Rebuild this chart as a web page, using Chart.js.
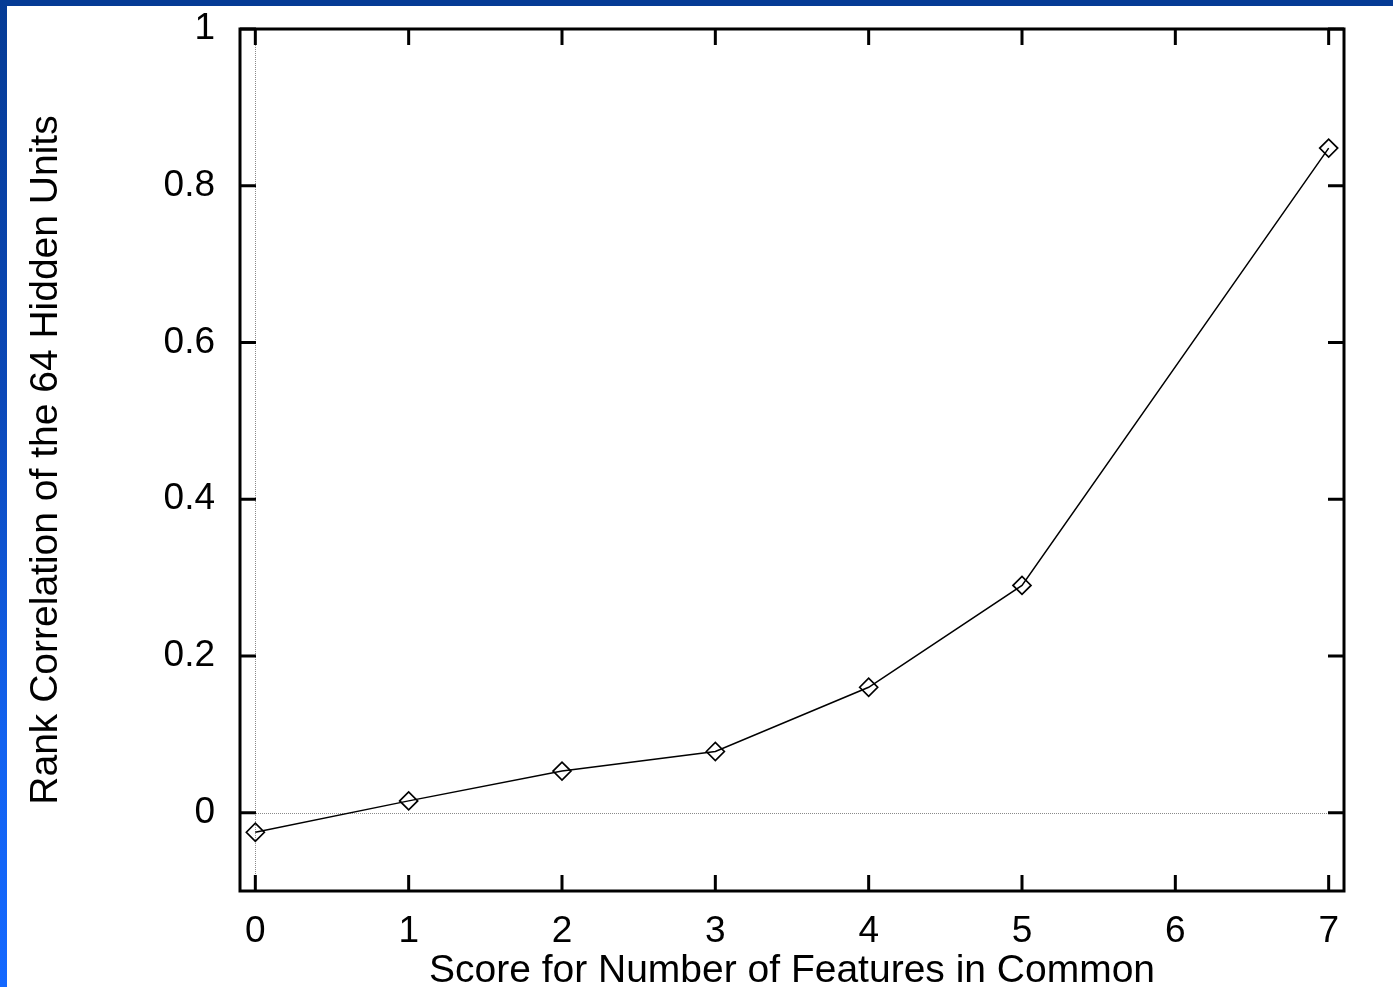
<!DOCTYPE html>
<html>
<head>
<meta charset="utf-8">
<script src="https://cdn.jsdelivr.net/npm/chart.js@4.4.1/dist/chart.umd.min.js"></script>
<style>
  html, body { margin: 0; padding: 0; background: #ffffff; overflow: hidden; }
  #wrap { position: relative; width: 1393px; height: 987px; }
  #topband { position: absolute; left: 0; top: 0; width: 1393px; height: 6px; background: #053b95; }
  #leftband { position: absolute; left: 0; top: 0; width: 7px; height: 987px;
              background: linear-gradient(to bottom, #053b95 0%, #0b48b8 40%, #1262f0 75%, #1468ff 100%); }
  canvas { position: absolute; left: 0; top: 0; }
</style>
</head>
<body>
<div id="wrap">
  <canvas id="c" width="1393" height="987"></canvas>
  <div id="topband"></div>
  <div id="leftband"></div>
</div>
<script>
// Score for number of shared features vs. rank correlation of the hidden units
const scores = [0, 1, 2, 3, 4, 5, 7];
const correlations = [-0.025, 0.015, 0.053, 0.078, 0.16, 0.29, 0.848];
const xTickValues = [0, 1, 2, 3, 4, 5, 6, 7];
const yTickValues = [0, 0.2, 0.4, 0.6, 0.8, 1];
const xTitle = 'Score for Number of Features in Common';
const yTitle = 'Rank Correlation of the 64 Hidden Units';

const FONT = 'Liberation Sans, Arial, Helvetica, sans-serif';
const TICK_LEN = 16;

// Frame, inward ticks on all four sides and dotted zero lines
const framePlugin = {
  id: 'frame',
  beforeDatasetsDraw(chart) {
    const { ctx, chartArea: a, scales } = chart;
    const xs = scales.x, ys = scales.y;
    ctx.save();
    ctx.strokeStyle = '#8a8a8a';
    ctx.lineWidth = 1;
    ctx.setLineDash([1, 1]);
    const x0 = Math.round(xs.getPixelForValue(0)) + 0.5;
    const y0 = Math.round(ys.getPixelForValue(0)) + 0.5;
    ctx.beginPath();
    ctx.moveTo(x0, a.top); ctx.lineTo(x0, a.bottom);
    ctx.moveTo(a.left, y0); ctx.lineTo(a.right, y0);
    ctx.stroke();
    ctx.setLineDash([]);

    ctx.strokeStyle = '#000';
    ctx.lineWidth = 3;
    ctx.beginPath();
    xTickValues.forEach(v => {
      const px = xs.getPixelForValue(v);
      ctx.moveTo(px, a.bottom); ctx.lineTo(px, a.bottom - TICK_LEN);
      ctx.moveTo(px, a.top); ctx.lineTo(px, a.top + TICK_LEN);
    });
    yTickValues.forEach(v => {
      const py = ys.getPixelForValue(v);
      ctx.moveTo(a.left, py); ctx.lineTo(a.left + TICK_LEN, py);
      ctx.moveTo(a.right, py); ctx.lineTo(a.right - TICK_LEN, py);
    });
    ctx.stroke();
    ctx.strokeRect(a.left, a.top, a.right - a.left, a.bottom - a.top);
    ctx.restore();
  }
};

new Chart(document.getElementById('c'), {
  type: 'line',
  data: {
    datasets: [{
      data: scores.map((s, i) => ({ x: s, y: correlations[i] })),
      borderColor: '#000',
      borderWidth: 1.5,
      pointStyle: 'rectRot',
      pointRadius: 9,
      pointBorderWidth: 1.7,
      pointBorderColor: '#000',
      pointBackgroundColor: 'rgba(0,0,0,0)',
      tension: 0,
      fill: false
    }]
  },
  options: {
    responsive: false,
    animation: false,
    events: [],
    layout: { padding: { top: 29, right: 49, left: 0, bottom: 0 } },
    plugins: { legend: { display: false }, tooltip: { enabled: false } },
    scales: {
      x: {
        type: 'linear',
        min: -0.1,
        max: 7.1,
        afterBuildTicks: s => { s.ticks = xTickValues.map(v => ({ value: v })); },
        afterFit: s => { s.height = 96; s.paddingLeft = 0; s.paddingRight = 0; },
        grid: { display: false, drawTicks: false },
        border: { display: false },
        ticks: {
          color: '#000',
          padding: 19,
          maxRotation: 0,
          font: { family: FONT, size: 37 },
          callback: v => String(v)
        },
        title: {
          display: true,
          text: xTitle,
          color: '#000',
          font: { family: FONT, size: 39, lineHeight: 0.8 },
          padding: { top: 0, bottom: 0 }
        }
      },
      y: {
        type: 'linear',
        min: -0.1,
        max: 1,
        afterBuildTicks: s => { s.ticks = yTickValues.map(v => ({ value: v })); },
        afterFit: s => { s.width = 240; s.paddingTop = 0; s.paddingBottom = 0; },
        grid: { display: false, drawTicks: false },
        border: { display: false },
        ticks: {
          color: '#000',
          padding: 25,
          font: { family: FONT, size: 37 },
          callback: v => (v === 0 || v === 1) ? String(v) : v.toFixed(1)
        },
        title: {
          display: true,
          text: yTitle,
          color: '#000',
          font: { family: FONT, size: 39, lineHeight: 1 },
          padding: { top: 27, bottom: 0 }
        }
      }
    }
  },
  plugins: [framePlugin]
});
</script>
</body>
</html>
